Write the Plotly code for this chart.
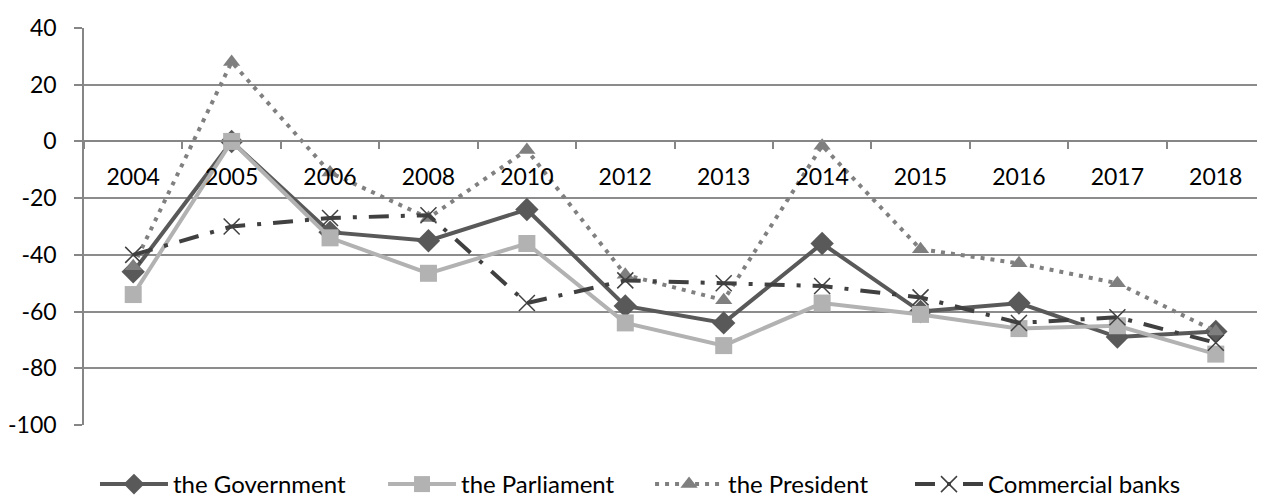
import plotly.graph_objects as go

# Survey balance by year
years = ["2004", "2005", "2006", "2008", "2010", "2012",
         "2013", "2014", "2015", "2016", "2017", "2018"]
government = [-46, 0, -32, -35, -24, -58, -64, -36, -60, -57, -69, -67]
parliament = [-54, 0, -34, -46.5, -36, -64, -72, -57, -61, -66, -65, -75]
president = [-44, 28, -11, -27, -3, -47, -56, -1.5, -38, -43, -50, -67]
banks = [-40, -30, -27, -26, -57, -49, -50, -51, -55, -64, -62, -71]

y_ticks = [40, 20, 0, -20, -40, -60, -80, -100]
y_labels = [str(v) for v in y_ticks]  # plain hyphen, as in the original

FONT = "Lato"

fig = go.Figure()

fig.add_trace(go.Scatter(
    x=years, y=government, name="the Government", mode="lines+markers",
    line=dict(color="#595959", width=4),
    marker=dict(symbol="diamond", size=18, color="#595959"),
    legend="legend",
))
fig.add_trace(go.Scatter(
    x=years, y=parliament, name="the Parliament", mode="lines+markers",
    line=dict(color="#b2b2b2", width=4),
    marker=dict(symbol="square", size=17, color="#b2b2b2"),
    legend="legend2",
))
fig.add_trace(go.Scatter(
    x=years, y=president, name="the President", mode="lines+markers",
    line=dict(color="#808080", width=4, dash="4px,6px"),
    marker=dict(symbol="triangle-up", size=15, color="#7f7f7f"),
    legend="legend3",
))
fig.add_trace(go.Scatter(
    x=years, y=banks, name="Commercial banks", mode="lines+markers",
    line=dict(color="#404040", width=4, dash="20px,12px,4px,12px"),
    marker=dict(symbol="x-thin-open", size=16,
                line=dict(color="#404040", width=1.5)),
    legend="legend4",
))

# x axis crosses the value axis at zero
zero_pos = (0 - y_ticks[-1]) / (y_ticks[0] - y_ticks[-1])


def legend_box(x):
    # one legend per series so the spacing can follow the original
    return dict(orientation="h", x=x, xanchor="left",
                y=0.0, yref="container", yanchor="bottom",
                font=dict(family=FONT, size=24),
                itemwidth=68, bgcolor="rgba(0,0,0,0)")


# the page body adds an 8px margin, so the margins are shifted to suit
fig.update_layout(
    width=1265, height=499,
    margin=dict(l=76, r=8, t=20, b=82),
    paper_bgcolor="white", plot_bgcolor="white",
    font=dict(family=FONT, size=23, color="black"),
    showlegend=True,
    legend=legend_box(0.0093),
    legend2=legend_box(0.2532),
    legend3=legend_box(0.4793),
    legend4=legend_box(0.6994),
    xaxis=dict(
        type="category", anchor="free", position=zero_pos,
        automargin=False,
        showline=True, linecolor="#868686", linewidth=2,
        showgrid=False, tickson="boundaries",
        ticks="outside", ticklen=7, tickcolor="#868686", tickwidth=1.5,
        ticklabelstandoff=15,
        range=[-0.5, len(years) - 0.5],
    ),
    yaxis=dict(
        range=[y_ticks[-1], y_ticks[0]], tickvals=y_ticks, ticktext=y_labels,
        automargin=False,
        showline=True, linecolor="#868686", linewidth=1.5,
        showgrid=True, gridcolor="#8c8c8c", gridwidth=1.5,
        zeroline=False,
        ticks="outside", ticklen=8, tickcolor="#868686", tickwidth=1.5,
        ticklabelstandoff=13,
    ),
)

fig.write_html("out.html")
